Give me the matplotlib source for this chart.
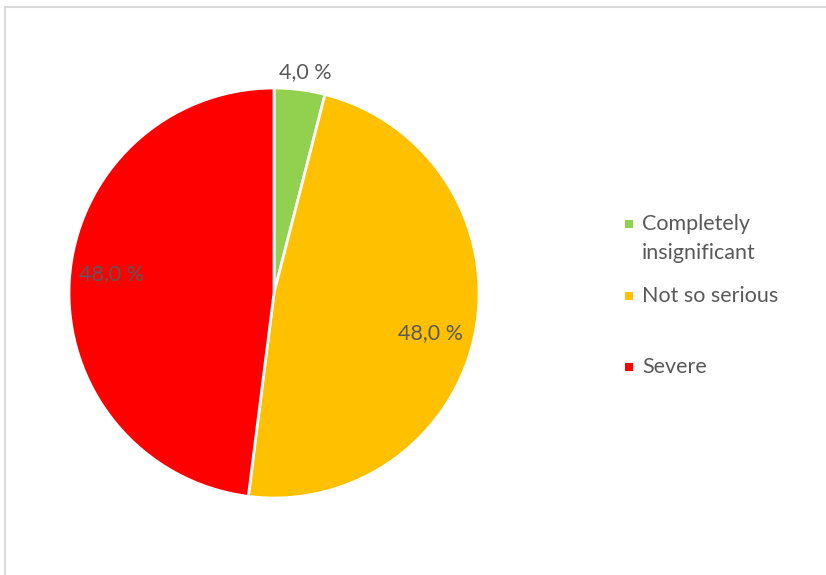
import matplotlib
matplotlib.use("Agg")
import matplotlib.pyplot as plt
import numpy as np
from matplotlib.patches import Rectangle

categories = ["Completely insignificant", "Not so serious", "Severe"]
legend_lines = [["Completely", "insignificant"], ["Not so serious"], ["Severe"]]
values = [4.0, 48.0, 48.0]
colors = ["#92D050", "#FFC000", "#FF0000"]
labels = ["4,0 %", "48,0 %", "48,0 %"]

plt.rcParams['font.family'] = ['Lato', 'DejaVu Sans']
W, H = 826, 575
FS = 15.5
TXT = "#595959"
fig = plt.figure(figsize=(W / 100, H / 100), dpi=100)

# outer border (only top/left visible)
fig.patches.append(Rectangle((5 / W, -0.1), 1.2, 1 - 7 / H + 0.1, transform=fig.transFigure,
                             fill=False, edgecolor="#D9D9D9", linewidth=1.5))

cx, cy, r = 274, 293, 205
ax = fig.add_axes([(cx - r) / W, (H - cy - r) / H, 2 * r / W, 2 * r / H])
wedges, _ = ax.pie(values, colors=colors, startangle=90, counterclock=False, radius=1,
                   wedgeprops=dict(edgecolor="white", linewidth=2))
ax.set_xlim(-1, 1)
ax.set_ylim(-1, 1)
ax.set_aspect("equal")

dists = [1.09, 0.79, 0.80]
shifts = [-0.8, -3.6, -3.0]
for w, lab, d, s in zip(wedges, labels, dists, shifts):
    ang = np.deg2rad((w.theta1 + w.theta2) / 2 + s)
    ax.text(d * np.cos(ang), d * np.sin(ang), lab, ha="center", va="center",
            fontsize=FS, color=TXT)

# legend
marker_y = [224, 296, 367]
line_gap = 29
for lines, col, y in zip(legend_lines, colors, marker_y):
    fig.patches.append(Rectangle((625 / W, 1 - (y + 4) / H), 8 / W, 8 / H,
                                 transform=fig.transFigure, facecolor=col, edgecolor="none"))
    for i, t in enumerate(lines):
        fig.text(642 / W, 1 - (y + i * line_gap) / H, t, ha="left", va="center",
                 fontsize=FS, color=TXT)

fig.savefig("out.png", dpi=100)
